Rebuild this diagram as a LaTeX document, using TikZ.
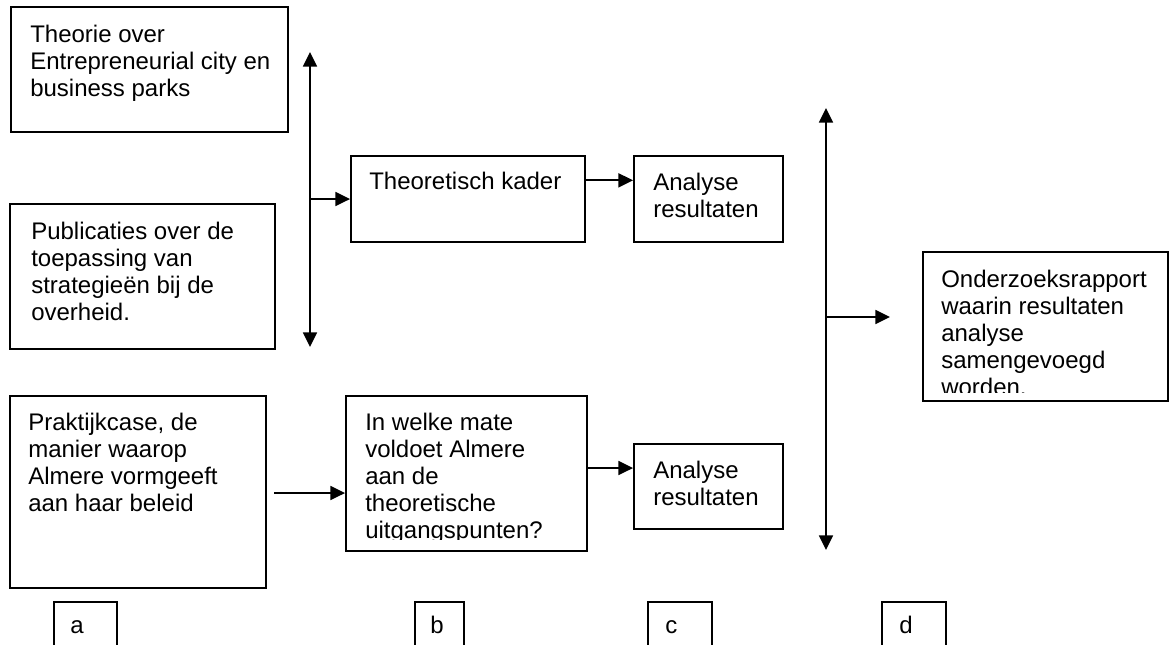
\documentclass[tikz,border=0pt]{standalone}
\usepackage{fontspec}
\setmainfont{Liberation Sans}
\usetikzlibrary{arrows.meta, fit}

\tikzset{
  kast/.style={draw, line width=1.4pt, inner sep=0pt},
  tekst/.style={anchor=north west, inner sep=0pt, align=left, font=\fontsize{18}{20.3}\selectfont},
  letter/.style={anchor=base west, inner sep=0pt, font=\fontsize{18}{20.3}\selectfont},
  pijl/.style={line width=1.3pt, -{Triangle[length=11pt, width=10.5pt]}},
  dubbelpijl/.style={line width=1.3pt, {Triangle[length=11pt, width=10.5pt]}-{Triangle[length=11pt, width=10.5pt]}}
}

\begin{document}
\begin{tikzpicture}[x=0.75pt, y=-0.75pt]
            \clip (0,0) rectangle (1169,644);
            \fill[white] (0,0) rectangle (1169,644);
            % Bronnen
            \node[kast, fit={(11,7) (288,132)}] (theorie) {};
            \node[tekst] (theorietekst) at (30,25) {Theorie over\\Entrepreneurial city en\\business parks};
            \node[kast, fit={(10,204) (275,349)}] (publicaties) {};
            \node[tekst] (publicatiestekst) at (31,222) {Publicaties over de\\toepassing van\\strategieën bij de\\overheid.};
            \node[kast, fit={(10,396) (266,588)}] (praktijk) {};
            \node[tekst] (praktijktekst) at (28,413) {Praktijkcase, de\\manier waarop\\Almere vormgeeft\\aan haar beleid};
            % Theorie en vraag
            \node[kast, fit={(351,156) (585,242)}] (kader) {};
            \node[tekst] (kadertekst) at (369,172) {Theoretisch kader};
            \node[kast, fit={(346,396) (587,551)}] (vraag) {};
            \begin{scope}
                \clip (346,396) rectangle (587,539);
                \node[tekst] (vraagtekst) at (365,413) {In welke mate\\voldoet Almere\\aan de\\theoretische\\uitgangspunten?};
            \end{scope}
            % Analyse
            \node[kast, fit={(634,156) (783,242)}] (analyseboven) {};
            \node[tekst] (analysebovententekst) at (653,173) {Analyse\\resultaten};
            \node[kast, fit={(634,444) (783,529)}] (analyseonder) {};
            \node[tekst] (analyseondertekst) at (653,461) {Analyse\\resultaten};
            % Rapport
            \node[kast, fit={(923,252) (1168,401)}] (rapport) {};
            \begin{scope}
                \clip (923,252) rectangle (1168,392);
                \node[tekst] (rapporttekst) at (941,270) {Onderzoeksrapport\\waarin resultaten\\analyse\\samengevoegd\\worden.};
            \end{scope}
            % Pijlen
            \coordinate (lboven) at (310,52);
            \coordinate (londer) at (310,347);
            \coordinate (lmidden) at (310,199);
            \draw[dubbelpijl] (lboven) -- (londer);
            \draw[pijl] (lmidden) -- (kader.west);
            \draw[pijl] ([yshift=14pt]kader.east) -- ([yshift=14pt]analyseboven.west);
            \coordinate (pstart) at (274,493);
            \draw[pijl] (pstart) -- (pstart -| vraag.west);
            \draw[pijl] (vraag.east |- 0,468) -- (analyseonder.west |- 0,468);
            \coordinate (rboven) at (826,108);
            \coordinate (ronder) at (826,550);
            \coordinate (rmidden) at (826,317);
            \coordinate (reind) at (890,317);
            \draw[dubbelpijl] (rboven) -- (ronder);
            \draw[pijl] (rmidden) -- (reind);
            % Letters
            \node[kast, fit={(54,602) (117,660)}] (kasta) {};
            \node[letter] (lettera) at (70,633) {a};
            \node[kast, fit={(415,602) (464,660)}] (kastb) {};
            \node[letter] (letterb) at (430,633) {b};
            \node[kast, fit={(648,602) (712,660)}] (kastc) {};
            \node[letter] (letterc) at (665,633) {c};
            \node[kast, fit={(882,602) (946,660)}] (kastd) {};
            \node[letter] (letterd) at (899,633) {d};
        \end{tikzpicture}
\end{document}
